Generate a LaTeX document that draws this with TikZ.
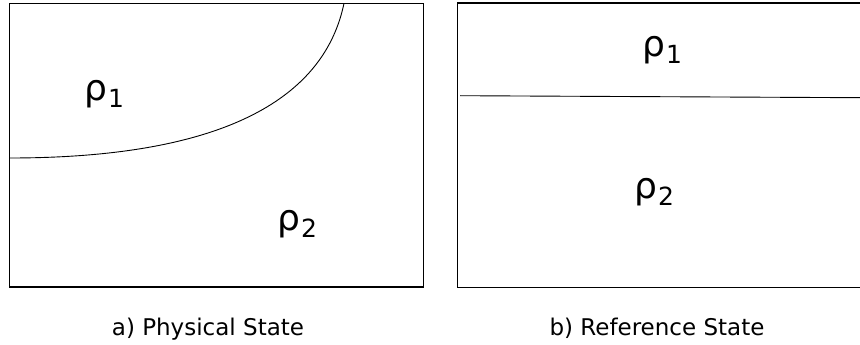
\documentclass[tikz,border=0pt]{standalone}
\usepackage{fontspec}
\setmainfont{DejaVu Sans}
\newcommand\rhosub[1]{\kern1pt\raisebox{-7pt}{\fontsize{25}{29}\selectfont #1}}
\begin{document}
\begin{tikzpicture}[x=1pt,y=-1pt,
  frame/.style={draw=black, line width=1.2pt},
  iface/.style={draw=black, line width=0.9pt},
  rho/.style={anchor=base west, inner sep=0pt, font=\fontsize{36}{42}\selectfont},
  captext/.style={anchor=base, inner sep=0pt, font=\fontsize{23}{28}\selectfont}]
\useasboundingbox (0,0) rectangle (860,345);
% boxes
\draw[frame] (9.5,3.3) rectangle (423.3,287);
\draw[frame] (457.5,3) rectangle (868,287.7);
% interface in physical state
\coordinate (c0) at (9.5,158);
\coordinate (c1) at (344,3.3);
\draw[iface] (c0) .. controls (230,158) and (325,95) .. (c1);
% interface in reference state
\coordinate (d0) at (460,95.7);
\coordinate (d1) at (860,97.7);
\draw[iface] (d0) -- (d1);
% labels
\node[rho] (la1) at (84,100) {ρ\rhosub{1}};
\node[rho] (la2) at (277,230) {ρ\rhosub{2}};
\node[rho] (lb1) at (642,57) {ρ\rhosub{1}};
\node[rho] (lb2) at (634,198) {ρ\rhosub{2}};
% captions
\node[captext] (capa) at (208,335) {a) Physical State};
\node[captext] (capb) at (657,335) {b) Reference State};
\end{tikzpicture}
\end{document}
